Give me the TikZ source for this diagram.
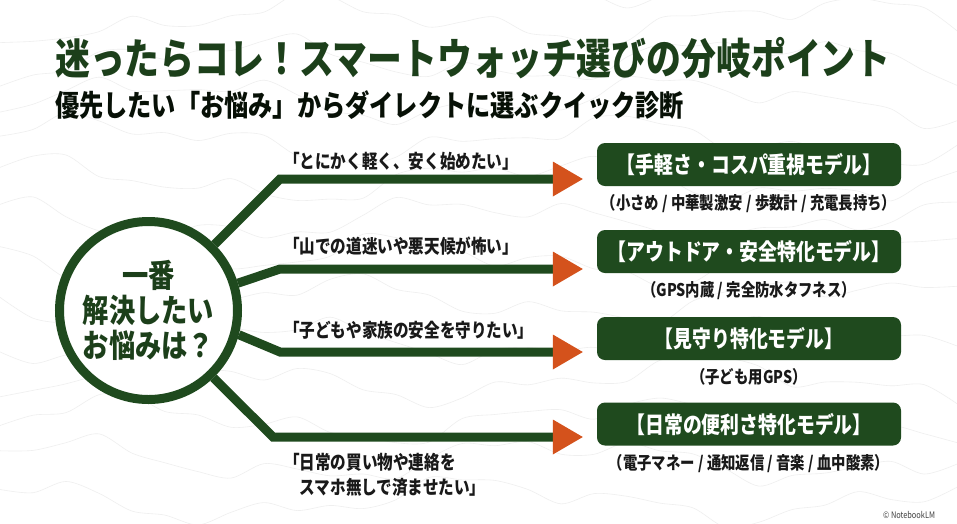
\documentclass[tikz,border=0pt]{standalone}
\usepackage{fontspec}
\setmainfont{Noto Sans CJK JP}[FakeStretch=0.82]
\usetikzlibrary{positioning,calc,arrows.meta}
\definecolor{forest}{HTML}{1F4A1E}
\definecolor{deepgreen}{HTML}{1C3F1A}
\definecolor{rust}{HTML}{D4521C}
\definecolor{contour}{HTML}{EFEFEF}

\begin{document}
\begin{tikzpicture}[x=1pt,y=-1pt,
    heading/.style={anchor=west,inner sep=0pt,text=deepgreen,font=\bfseries\fontsize{42.5}{46}\selectfont},
    subheading/.style={anchor=west,inner sep=0pt,text=black!75!deepgreen,font=\bfseries\fontsize{29.5}{32}\selectfont},
    hub/.style={circle,draw=forest,line width=9pt,fill=white,minimum size=178pt,inner sep=0pt,align=center,text=deepgreen,font=\bfseries\fontsize{32}{35}\selectfont},
    branch/.style={draw=forest,line width=9pt,-{Triangle[length=30pt,width=35pt,line width=0pt,color=rust]}},
    worry/.style={anchor=west,inner sep=0pt,align=left,text=black!90,font=\bfseries\fontsize{19}{25}\selectfont},
    model/.style={fill=forest,rounded corners=8pt,minimum width=304pt,minimum height=43pt,inner sep=0pt,text=white,font=\bfseries\fontsize{23}{26}\selectfont},
    spec/.style={inner sep=0pt,text=black!90,font=\bfseries\fontsize{17.5}{20}\selectfont}]
  \useasboundingbox (0,0) rectangle (957,523);
  \fill[white] (0,0) rectangle (957,523);
  % faint map lines
  \foreach \k in {0,...,13}
    \draw[contour,line width=0.6pt] plot[smooth,domain=0:957,samples=30]
      (\x,{\k*40-20+16*sin(\x*0.7+\k*50)+9*sin(\x*1.9+\k*37)+5*sin(\x*4.1+\k*80)});

  \node[heading] (title) at (55,58) {迷ったらコレ！スマートウォッチ選びの分岐ポイント};
  \node[subheading] (subtitle) at (55,105) {優先したい「お悩み」からダイレクトに選ぶクイック診断};

  \node[hub] (hub) at (148.5,310.5) {一番\\解決したい\\お悩みは？};

  \node[model] (m1) at (749,164.5) {【手軽さ・コスパ重視モデル】};
  \node[model] (m2) at (749,251.5) {【アウトドア・安全特化モデル】};
  \node[model] (m3) at (749,338.5) {【見守り特化モデル】};
  \node[model] (m4) at (749,424) {【日常の便利さ特化モデル】};
  \node[spec,below=8pt of m1] (s1) {（小さめ / 中華製激安 / 歩数計 / 充電長持ち）};
  \node[spec,below=8pt of m2] (s2) {（GPS内蔵 / 完全防水タフネス）};
  \node[spec,below=8pt of m3] (s3) {（子ども用GPS）};
  \node[spec,below=8pt of m4] (s4) {（電子マネー / 通知返信 / 音楽 / 血中酸素）};

  \coordinate (k1) at (280,179);
  \coordinate (k2) at (280,269);
  \coordinate (k3) at (280,352);
  \coordinate (k4) at (273,437);
  \draw[branch] (hub.45) -- (k1) -- ($(k1 -| m1.west)+(-14,0)$);
  \draw[branch] (hub.17) -- (k2) -- ($(k2 -| m2.west)+(-14,0)$);
  \draw[branch] (hub.-15) -- (k3) -- ($(k3 -| m3.west)+(-14,0)$);
  \draw[branch] (hub.-46) -- (k4) -- ($(k4 -| m4.west)+(-14,0)$);

  \node[worry] (w1) at (284,161) {「とにかく軽く、安く始めたい」};
  \node[worry] (w2) at (284,246) {「山での道迷いや悪天候が怖い」};
  \node[worry] (w3) at (284,330) {「子どもや家族の安全を守りたい」};
  \node[worry] (w4) at (284,474.5) {「日常の買い物や連絡を\\　スマホ無しで済ませたい」};

  \node[anchor=west,inner sep=0pt,text=black!75,font=\fontsize{9}{10}\selectfont] (mark) at (883,515) {© NotebookLM};
\end{tikzpicture}
\end{document}
